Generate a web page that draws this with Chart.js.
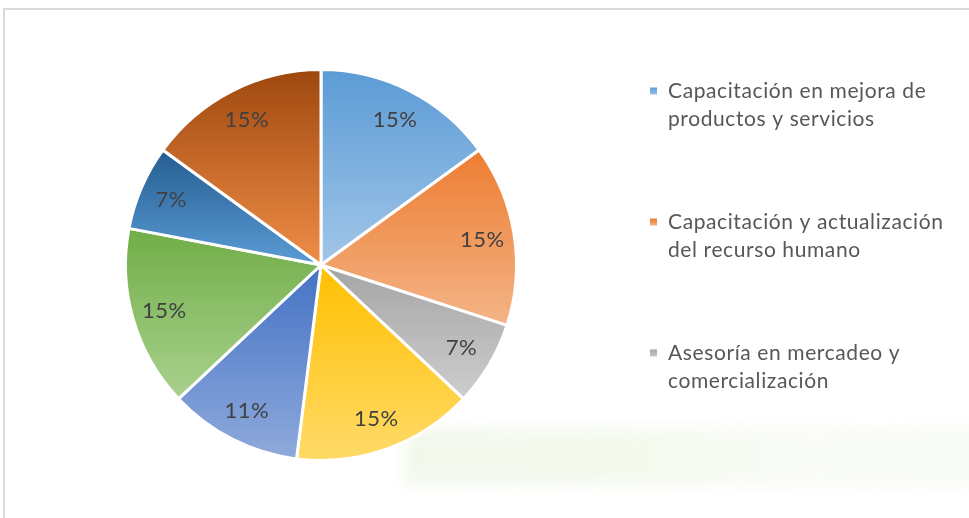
<!DOCTYPE html>
<html>
<head>
<meta charset="utf-8">
<script src="https://cdn.jsdelivr.net/npm/chart.js@4.4.1/dist/chart.umd.min.js"></script>
<style>
html, body { margin:0; padding:0; background:#ffffff; width:969px; height:518px; overflow:hidden; }
#frame { position:absolute; left:3px; top:8px; width:1000px; height:600px; border:2px solid #D9D9D9; box-sizing:border-box; }
#glow { position:absolute; left:405px; top:428px; width:580px; height:58px; background:linear-gradient(90deg, rgba(228,240,214,0.45), rgba(236,245,224,0.55) 40%, rgba(242,247,236,0.45) 70%, rgba(236,244,230,0.4)); filter:blur(7px); }
#c { position:absolute; left:0; top:0; }
</style>
</head>
<body>
<div id="frame"></div>
<div id="glow"></div>
<canvas id="c" width="969" height="518"></canvas>
<script>
// ---- data ----
const categories = [
  "Capacitación en mejora de productos y servicios",
  "Capacitación y actualización del recurso humano",
  "Asesoría en mercadeo y comercialización",
  "Categoría 4",
  "Categoría 5",
  "Categoría 6",
  "Categoría 7",
  "Categoría 8"
];
const values = [15, 15, 7, 15, 11, 15, 7, 15];
const percentLabels = ["15%", "15%", "7%", "15%", "11%", "15%", "7%", "15%"];
const legendLines = [
  ["Capacitación en mejora de", "productos y servicios"],
  ["Capacitación y actualización", "del recurso humano"],
  ["Asesoría en mercadeo y", "comercialización"]
];
const topColors    = ["#5B9BD5", "#ED7D31", "#A5A5A5", "#FFC000", "#4472C4", "#70AD47", "#255E91", "#9E480E"];
const bottomColors = ["#A2C6E8", "#F4B488", "#CDCDCD", "#FFDA68", "#8FAADC", "#A9D18E", "#5B9BD5", "#F08D48"];

function sliceGradient(context) {
  const i = context.dataIndex;
  const chart = context.chart;
  const area = chart.chartArea;
  const meta = chart.getDatasetMeta(0);
  if (!area || !meta.controller || !meta.controller.outerRadius) return topColors[i];
  const r = meta.controller.outerRadius;
  const cy = (area.top + area.bottom) / 2;
  const total = values.reduce((a, b) => a + b, 0);
  let start = -Math.PI / 2;
  for (let k = 0; k < i; k++) start += values[k] / total * 2 * Math.PI;
  const end = start + values[i] / total * 2 * Math.PI;
  const ys = [cy, cy + r * Math.sin(start), cy + r * Math.sin(end)];
  [Math.PI / 2, 3 * Math.PI / 2].forEach(a => { if (a > start && a < end) ys.push(cy + r * Math.sin(a)); });
  const y0 = Math.min(...ys), y1 = Math.max(...ys);
  const g = chart.ctx.createLinearGradient(0, y0, 0, y1);
  g.addColorStop(0, topColors[i]);
  g.addColorStop(1, bottomColors[i]);
  return g;
}

const labelPlugin = {
  id: 'sliceLabels',
  afterDatasetsDraw(chart) {
    const ctx = chart.ctx;
    const meta = chart.getDatasetMeta(0);
    ctx.save();
    ctx.font = '22px Lato';
    try { ctx.letterSpacing = '0.5px'; } catch (e) {}
    ctx.fillStyle = '#404040';
    ctx.textAlign = 'center';
    ctx.textBaseline = 'middle';
    meta.data.forEach((arc, i) => {
      const mid = (arc.startAngle + arc.endAngle) / 2;
      const rr = arc.outerRadius * 0.835;
      ctx.fillText(percentLabels[i], arc.x + Math.cos(mid) * rr, arc.y + Math.sin(mid) * rr);
    });
    ctx.restore();
  }
};

const legendPlugin = {
  id: 'sideLegend',
  afterDraw(chart) {
    const ctx = chart.ctx;
    ctx.save();
    ctx.font = '21px Lato';
    try { ctx.letterSpacing = '0.6px'; } catch (e) {}
    ctx.textBaseline = 'middle';
    ctx.textAlign = 'left';
    legendLines.forEach((lines, i) => {
      const y = 91.5 + i * 131;
      const g = ctx.createLinearGradient(0, y - 4, 0, y + 4);
      g.addColorStop(0, topColors[i]);
      g.addColorStop(1, bottomColors[i]);
      ctx.fillStyle = g;
      ctx.fillRect(650, y - 4, 7, 7);
      ctx.fillStyle = '#575757';
      lines.forEach((t, j) => ctx.fillText(t, 668, y + j * 28));
    });
    ctx.restore();
  }
};

new Chart(document.getElementById('c'), {
  type: 'pie',
  data: {
    labels: categories,
    datasets: [{
      data: values,
      backgroundColor: sliceGradient,
      borderColor: '#ffffff',
      borderWidth: 3
    }]
  },
  options: {
    responsive: false,
    animation: false,
    layout: { padding: { left: 124, right: 451, top: 68, bottom: 56 } },
    plugins: {
      legend: { display: false },
      tooltip: { enabled: false }
    }
  },
  plugins: [labelPlugin, legendPlugin]
});
</script>
</body>
</html>
